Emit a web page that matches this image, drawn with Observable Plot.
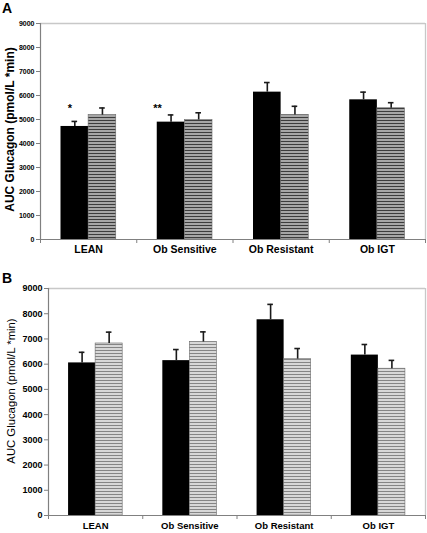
<!DOCTYPE html>
<html><head><meta charset="utf-8">
<script src="https://cdn.jsdelivr.net/npm/d3@7"></script>
<script src="https://cdn.jsdelivr.net/npm/@observablehq/plot@0.6"></script>
<style>
body{margin:0;background:#fff;font-family:"Liberation Sans",Arial,sans-serif}
#wrap{position:relative;width:427px;height:533px;overflow:hidden;background:#fff}
.letter{position:absolute;font-weight:bold;font-size:14px;line-height:14px;color:#000}
.panel{position:absolute;left:0}
</style></head><body>
<div id="wrap">
<div class="panel" id="pA" style="top:0"></div>
<div class="panel" id="pB" style="top:260px"></div>
<div class="letter" style="left:2px;top:1px">A</div>
<div class="letter" style="left:2px;top:271px">B</div>
</div>
<script>
// ---- data ----
const categories = ["LEAN", "Ob Sensitive", "Ob Resistant", "Ob IGT"];
const yTicks = [0, 1000, 2000, 3000, 4000, 5000, 6000, 7000, 8000, 9000];
const yTitle = "AUC Glucagon (pmol/L *min)";

// Panel A
const aBlack    = [4710, 4890, 6140, 5820];
const aBlackErr = [210, 300, 400, 320];
const aHatch    = [5180, 4980, 5190, 5470];
const aHatchErr = [300, 300, 360, 230];
const aSig      = ["*", "**", "", ""];
const aSigY     = 5470;

// Panel B
const bBlack    = [6050, 6140, 7760, 6360];
const bBlackErr = [420, 440, 610, 420];
const bHatch    = [6820, 6880, 6200, 5820];
const bHatchErr = [450, 400, 420, 330];

// ---- drawing ----
const FONT = "'Liberation Sans', Arial, sans-serif";
const W = 0.287; // bar width, in category units
const xBounds = [0, 1, 2, 3, 4];

function addPattern(svg, id, light, dark) {
  const defs = d3.select(svg).insert("defs", ":first-child");
  const p = defs.append("pattern").attr("id", id).attr("patternUnits", "userSpaceOnUse")
    .attr("width", 6).attr("height", 3);
  p.append("rect").attr("width", 6).attr("height", 3).attr("fill", light);
  p.append("rect").attr("width", 6).attr("height", 1).attr("fill", dark);
}

function makePanel(o) {
  const blackRows = categories.map((c, i) => ({i, v: o.black[i], e: o.blackErr[i]}));
  const hatchRows = categories.map((c, i) => ({i, v: o.hatch[i], e: o.hatchErr[i]}));
  const bx = d => d.i + 0.5 - W / 2;
  const hx = d => d.i + 0.5 + W / 2;
  const marks = [
    Plot.ruleY([9000], {stroke: "#c8c8c8", strokeWidth: 1.3}),
    Plot.ruleX([4], {stroke: "#c8c8c8", strokeWidth: 1.3}),
    Plot.rectY(blackRows, {x1: d => d.i + 0.5 - W, x2: d => d.i + 0.5, y: "v", fill: "black"}),
    Plot.rectY(hatchRows, {x1: d => d.i + 0.5, x2: d => d.i + 0.5 + W, y: "v",
      fill: `url(#${o.pid})`, stroke: "#6a6a6a", strokeWidth: 0.6}),
    Plot.ruleX(blackRows, {x: bx, y1: "v", y2: d => d.v + d.e, stroke: "#1a1a1a", strokeWidth: 1.6}),
    Plot.ruleY(blackRows, {y: d => d.v + d.e, x1: bx, x2: bx, insetLeft: -2.8, insetRight: -2.8, stroke: "#1a1a1a", strokeWidth: 1.6}),
    Plot.ruleX(hatchRows, {x: hx, y1: "v", y2: d => d.v + d.e, stroke: "#1a1a1a", strokeWidth: 1.6}),
    Plot.ruleY(hatchRows, {y: d => d.v + d.e, x1: hx, x2: hx, insetLeft: -2.8, insetRight: -2.8, stroke: "#1a1a1a", strokeWidth: 1.6}),
    Plot.ruleX([0], {stroke: "#808080", strokeWidth: 1.2}),
    Plot.ruleY([0], {stroke: "#808080", strokeWidth: 1.2}),
    Plot.axisY({ticks: yTicks, tickSize: 4, tickPadding: 2, fontSize: o.tickFont, fontWeight: "bold",
      label: null, stroke: "#808080", fill: "black", tickFormat: d => String(d)}),
    Plot.axisX({ticks: xBounds, tickFormat: () => "", tickSize: 4, label: null, stroke: "#808080"}),
    Plot.text(categories, {x: (d, i) => i + 0.5, frameAnchor: "bottom", dy: o.catDy,
      fontSize: o.catFont, fontWeight: "bold", fill: "black"}),
    Plot.text([yTitle], {frameAnchor: "left", textAnchor: "middle", lineAnchor: "middle", rotate: -90,
      dx: o.titleDx, dy: o.titleDy, fontSize: o.titleFont, fontWeight: o.titleWeight, fill: "black"})
  ];
  if (o.sig) {
    const sigRows = categories.map((c, i) => ({i, s: o.sig[i]}));
    marks.push(Plot.text(sigRows.filter(d => d.s === "*"), {x: bx, y: () => o.sigY, text: "s",
      dx: -5, fontSize: 11, fontWeight: "bold", fill: "black"}));
    marks.push(Plot.text(sigRows.filter(d => d.s === "**"), {x: bx, y: () => o.sigY, text: "s",
      dx: -13.5, fontSize: 11, fontWeight: "bold", fill: "black"}));
  }
  const svg = Plot.plot({
    width: 427, height: o.height,
    marginLeft: o.ml, marginRight: 2, marginTop: o.mt, marginBottom: o.mb,
    style: {fontFamily: FONT, background: "white", overflow: "visible"},
    x: {domain: [0, 4]},
    y: {domain: [0, 9000]},
    marks
  });
  addPattern(svg, o.pid, o.light, o.dark);
  return svg;
}

document.getElementById("pA").append(makePanel({
  pid: "hatchA", black: aBlack, blackErr: aBlackErr, hatch: aHatch, hatchErr: aHatchErr,
  sig: aSig, sigY: aSigY,
  height: 260, ml: 40, mt: 23, mb: 21, tickFont: 7, catFont: 10.5, catDy: 13,
  titleDx: -30.5, titleDy: -2, titleFont: 12, titleWeight: "bold",
  light: "#a6a6a6", dark: "#3c3c3c"
}));

document.getElementById("pB").append(makePanel({
  pid: "hatchB", black: bBlack, blackErr: bBlackErr, hatch: bHatch, hatchErr: bHatchErr,
  height: 273, ml: 48, mt: 28, mb: 18, tickFont: 9, catFont: 9.5, catDy: 13,
  titleDx: -37, titleDy: -11, titleFont: 11.3, titleWeight: "normal",
  light: "#d8d8d8", dark: "#858585"
}));
</script>
</body></html>
